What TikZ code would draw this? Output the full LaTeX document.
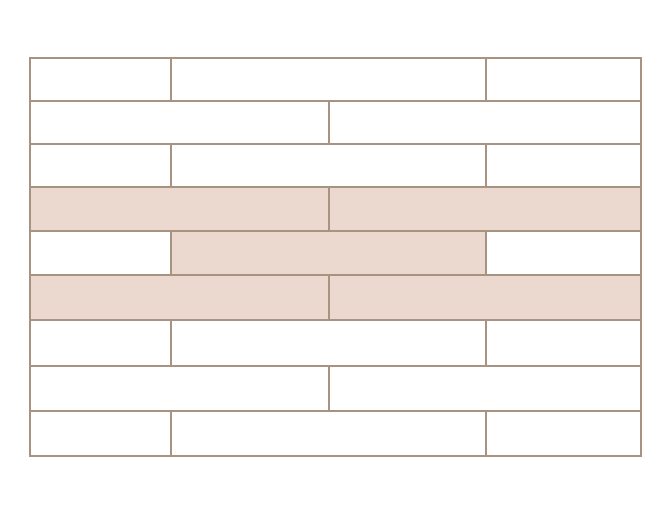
\documentclass[tikz,border=0pt]{standalone}
\begin{document}
\begin{tikzpicture}[x=0.75pt,y=-0.75pt,
  brick/.style={draw=brickline,line width=1.1pt,fill=white},
  shaded/.style={brick,fill=brickfill}]
\definecolor{brickline}{HTML}{A89282}
\definecolor{brickfill}{HTML}{EBD9D0}
\useasboundingbox (0,0) rectangle (669,511);
\def\ys{58/101,101/144,144/187,187/231,231/275,275/320,320/366,366/411,411/456}
% rows
\foreach \ya/\yb [count=\r] in \ys {
  \ifodd\r
    \ifnum\r=5
      \draw[brick] (30,\ya) rectangle (171,\yb);
      \draw[shaded] (171,\ya) rectangle (486,\yb);
      \draw[brick] (486,\ya) rectangle (641,\yb);
    \else
      \draw[brick] (30,\ya) rectangle (171,\yb);
      \draw[brick] (171,\ya) rectangle (486,\yb);
      \draw[brick] (486,\ya) rectangle (641,\yb);
    \fi
  \else
    \ifnum\r=4
      \draw[shaded] (30,\ya) rectangle (329,\yb);
      \draw[shaded] (329,\ya) rectangle (641,\yb);
    \else\ifnum\r=6
      \draw[shaded] (30,\ya) rectangle (329,\yb);
      \draw[shaded] (329,\ya) rectangle (641,\yb);
    \else
      \draw[brick] (30,\ya) rectangle (329,\yb);
      \draw[brick] (329,\ya) rectangle (641,\yb);
    \fi\fi
  \fi
}
\end{tikzpicture}
\end{document}
